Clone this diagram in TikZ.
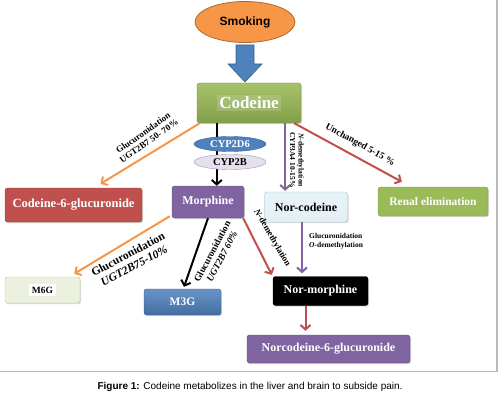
\documentclass[tikz,border=0pt]{standalone}
\usepackage{fontspec}
\setmainfont{Liberation Serif}
\newfontfamily\arialf{Liberation Sans}
\usetikzlibrary{shapes.geometric,arrows.meta,calc,shadows}
\definecolor{corange}{HTML}{F79646}
\definecolor{cblue}{HTML}{4F81BD}
\definecolor{cgreen}{HTML}{9BBB59}
\definecolor{cred}{HTML}{C0504D}
\definecolor{cpurple}{HTML}{8064A2}
\definecolor{clblue}{HTML}{DBEEF4}
\definecolor{clgreen}{HTML}{EBF1DE}
\definecolor{clav}{HTML}{E6E0EC}
\begin{document}
\begin{tikzpicture}[x=1pt,y=-1pt,
  box/.style={rectangle,rounded corners=2.5pt,inner sep=0pt,text=white,
    font=\bfseries\fontsize{12}{14}\selectfont,
    drop shadow={shadow xshift=1pt,shadow yshift=-1.2pt,opacity=0.3}},
  lbl/.style={font=\bfseries\fontsize{9}{10}\selectfont,align=center,inner sep=0pt},
  arr/.style={line width=2pt,-{Straight Barb[length=4.5pt,width=10pt]}},
  oarr/.style={arr,draw=corange},
  rarr/.style={arr,draw=cred},
  parr/.style={arr,draw=cpurple},
  karr/.style={arr,draw=black},
  cyp/.style={ellipse,inner sep=0pt,minimum width=72pt,minimum height=15pt,
    font=\bfseries\fontsize{10.5}{11}\selectfont}
]
\useasboundingbox (0,0) rectangle (500,401);
% frame
\draw[gray!55,line width=1.3pt] (497,0) -- (497,371.5) -- (0,371.5);

% smoking
\node[ellipse,fill=corange,draw=corange!70!black,line width=0.8pt,
  minimum width=100pt,minimum height=41pt,inner sep=0pt,
  font=\arialf\bfseries\fontsize{12}{14}\selectfont] (smoking) at (245,22) {Smoking};
\filldraw[fill=cblue,draw=cblue!75!black,line width=0.6pt]
  (236,45) -- (254,45) -- (254,64) -- (262,64) -- (245,82) -- (228,64) -- (236,64) -- cycle;

% main boxes
\node[box,top color=cgreen!90,bottom color=cgreen!85!black,draw=cgreen!75!black,
  minimum width=104pt,minimum height=40pt] (codeine) at (249,103) {};
\node[fill=white,fill opacity=0.15,text opacity=1,inner sep=2pt,text=white,
  font=\bfseries\fontsize{17}{19}\selectfont] (codtext) at (codeine.center) {Codeine};

\node[box,fill=cpurple,draw=cpurple!80!black,minimum width=72pt,minimum height=32pt] (morphine) at (208,202) {Morphine};
\node[box,fill=cred,draw=cred!80!black,minimum width=137pt,minimum height=34pt,
  font=\bfseries\fontsize{12.5}{14}\selectfont] (c6g) at (73.5,205) {Codeine-6-glucuronide};
\node[box,top color=clblue!70,bottom color=clblue!80!cblue!40,draw=clblue!60!cblue,text=black,
  minimum width=83pt,minimum height=30pt] (norcod) at (306,207) {Nor-codeine};
\node[box,fill=cgreen,draw=cgreen!80!black,minimum width=110pt,minimum height=29pt,
  font=\bfseries\fontsize{11.5}{13}\selectfont] (renal) at (433,201.5) {Renal elimination};
\node[box,fill=clgreen,draw=cgreen!70,text=black,minimum width=75pt,minimum height=26pt] (m6g) at (42.5,290) {};
\node[fill=white,inner sep=2.5pt,text=black,font=\bfseries\fontsize{9.5}{11}\selectfont] (m6gtext) at (m6g.center) {M6G};
\node[box,top color=cblue!85,bottom color=cblue!85!black,draw=cblue!70!black,
  minimum width=77pt,minimum height=26pt,font=\bfseries\fontsize{11.5}{13}\selectfont] (m3g) at (182.5,302) {M3G};
\node[box,fill=black,draw=black,minimum width=95pt,minimum height=29pt] (normor) at (320.5,291) {Nor-morphine};
\node[box,fill=cpurple,draw=cpurple!80!black,minimum width=163pt,minimum height=28pt] (n6g) at (328.5,349) {Norcodeine-6-glucuronide};

% codeine -> morphine through enzymes
\draw[karr] ([xshift=20pt]codeine.south west) coordinate (k1) -- (k1 |- morphine.north);
\node[cyp,fill=cblue,draw=cblue!80!black,text=white] (cyp2d6) at (230,144) {CYP2D6};
\node[cyp,fill=clav,draw=cpurple!70,text=black] (cyp2b) at (230,162) {CYP2B};

% codeine -> codeine-6-glucuronide
\draw[oarr] ([xshift=3pt]codeine.south west) -- ([xshift=27pt,yshift=4pt]c6g.north);
\node[lbl,rotate=35] (l1) at (146,137) {Glucuronidation\\UGT2B7 50- 70\%};

% codeine -> renal
\draw[rarr] ([xshift=-7pt]codeine.south east) -- ([xshift=24pt,yshift=5pt]renal.north west);
\node[lbl,rotate=-29,font=\bfseries\fontsize{9.5}{11}\selectfont] (l2) at (360,145) {Unchanged 5-15 \%};

% codeine -> nor-codeine
\draw[parr] ([xshift=-16pt]codeine.south east) coordinate (k2) -- ([yshift=1pt]k2 |- norcod.north);
\node[lbl,rotate=-90,font=\bfseries\fontsize{7.5}{8.5}\selectfont] (l3) at (297,160) {\textit{N}-demethylation\\CYP3A4 10-15\%};

% morphine -> M6G
\draw[oarr] ([xshift=-2pt,yshift=2pt]morphine.south west) -- ([xshift=-6pt,yshift=3pt]m6g.north east);
\node[lbl,rotate=28,font=\bfseries\fontsize{11.5}{13}\selectfont] (l4) at (131,260) {Glucuronidation\\\textit{UGT2B75-10\%}};

% morphine -> M3G
\draw[karr] (morphine.south) -- ([xshift=1.5pt,yshift=2pt]m3g.north);
\node[lbl,rotate=62,font=\bfseries\fontsize{9.5}{11}\selectfont] (l5) at (217,254) {Glucuronidation\\\textit{UGT2B7 60\%}};

% morphine -> nor-morphine
\draw[rarr] ([xshift=-1pt]morphine.south east) -- ([xshift=-1pt,yshift=1.5pt]normor.north west);
\node[lbl,rotate=-60,font=\bfseries\fontsize{9}{10}\selectfont] (l6) at (272,238) {\textit{N}-demethylation};

% nor-codeine -> nor-morphine
\draw[parr] ([xshift=-4pt]norcod.south) coordinate (k3) -- ([yshift=3pt]k3 |- normor.north);
\node[lbl,align=left,anchor=west,font=\bfseries\fontsize{7.5}{9.5}\selectfont] (l7) at (309,241) {Glucuronidation\\\textit{O}-demethylation};

% nor-morphine -> norcodeine-6-glucuronide
\draw[rarr] ([xshift=-15pt]normor.south) coordinate (k4) -- ([yshift=4pt]k4 |- n6g.north);

% caption
\node[inner sep=0pt,font=\arialf\fontsize{10}{12}\selectfont] (cap) at (250,387) {\textbf{Figure 1:} Codeine metabolizes in the liver and brain to subside pain.};
\end{tikzpicture}
\end{document}
